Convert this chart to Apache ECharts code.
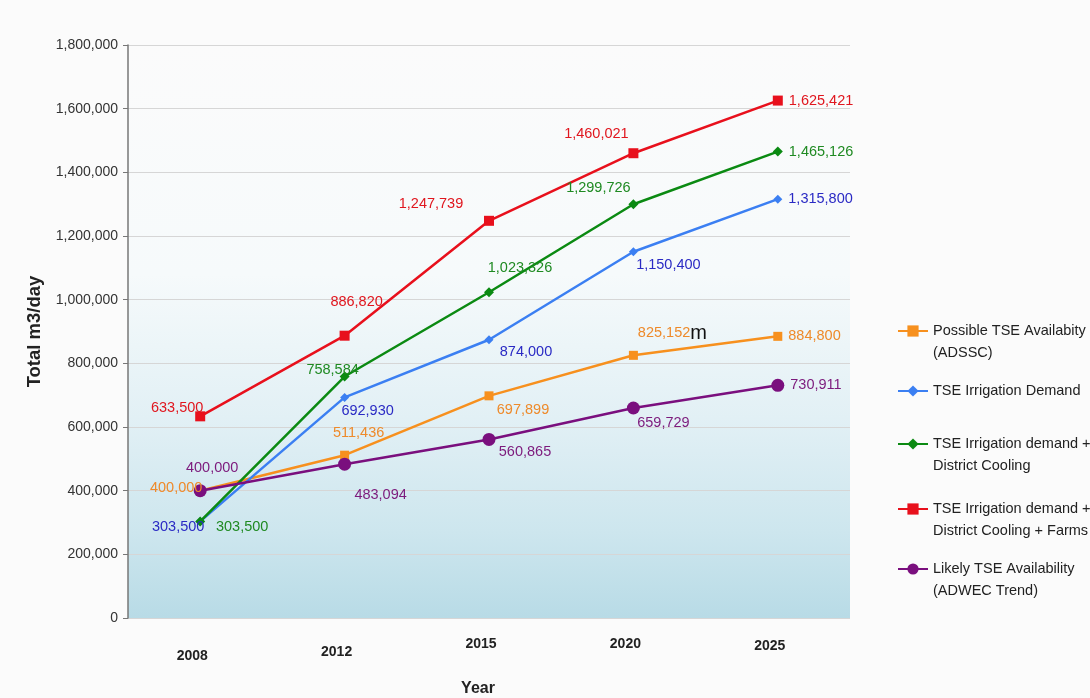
<!DOCTYPE html>
<html>
<head>
<meta charset="utf-8">
<title>TSE demand and availability</title>
<script src="https://cdn.jsdelivr.net/npm/echarts@6/dist/echarts.min.js"></script>
<style>
  html, body { margin: 0; padding: 0; background: #fbfbfb; }
  #chart { width: 1090px; height: 698px; }
</style>
</head>
<body>
<div id="chart"></div>
<script>
// Years on the category axis
const years = ['2008', '2012', '2015', '2020', '2025'];

// Flows in m3/day
const possibleADSSC = [400000, 511436, 697899, 825152, 884800];
const irrigationDemand = [303500, 692930, 874000, 1150400, 1315800];
const irrigationCooling = [303500, 758584, 1023326, 1299726, 1465126];
const irrigationCoolingFarms = [633500, 886820, 1247739, 1460021, 1625421];
const likelyADWEC = [400000, 483094, 560865, 659729, 730911];

// Value axis range
const yMin = 0;
const yMax = 1800000;
const yStep = 200000;

// Where each value label sits relative to its marker ([dx, dy]; null = to the right)
const offsADSSC = [[-24, -3], [14, -22], [34, 14], [39, -22], null];
const offsIrrigation = [[-22, 6], [23, 14], [37, 12], [35, 13], null];
const offsCooling = [[42, 6], [-12, -7], [31, -24], [-35, -16], null];
const offsFarms = [[-23, -8], [12, -34], [-58, -17], [-37, -19], null];
const offsADWEC = [[12, -23], [36, 31], [36, 13], [30, 15], null];
// a stray mark printed after one label
const suffixADSSC = ['', '', '', 'm', ''];
// extra downward shift of each year label
const yearLabelDrop = [12, 8, 0, 0, 2];

const FONT = "'Liberation Sans', Arial, sans-serif";
const fmt = v => v.toLocaleString('en-US');

function makeSeries(name, values, offs, lineColor, labelColor, symbol, symbolSize, suffix) {
  return {
    name: name,
    type: 'line',
    symbol: symbol,
    symbolSize: symbolSize,
    lineStyle: { color: lineColor, width: 2.5 },
    itemStyle: { color: lineColor },
    emphasis: { disabled: true },
    data: values.map((v, i) => {
      const o = offs[i];
      const label = o
        ? { show: true, position: 'inside', offset: o, align: 'center', verticalAlign: 'middle' }
        : { show: true, position: 'right', distance: 6 };
      return { value: v, label: label };
    }),
    label: {
      show: true,
      color: labelColor,
      fontFamily: FONT,
      fontSize: 14.5,
      formatter: p => {
        const s = suffix ? suffix[p.dataIndex] : '';
        return s ? '{v|' + fmt(p.value) + '}{m|' + s + '}' : fmt(p.value);
      },
      rich: {
        v: { color: labelColor, fontFamily: FONT, fontSize: 14.5 },
        m: { color: '#111', fontFamily: FONT, fontSize: 20 }
      }
    }
  };
}

const names = [
  'Possible TSE Availabity\n(ADSSC)',
  'TSE Irrigation Demand',
  'TSE Irrigation demand +\nDistrict Cooling',
  'TSE Irrigation demand +\nDistrict Cooling + Farms',
  'Likely TSE Availability\n(ADWEC Trend)'
];
const legendTops = [293, 375, 406, 471, 531];

const legends = names.map((n, i) => {
  const twoLine = n.indexOf('\n') >= 0;
  return {
    data: [n],
    orient: 'vertical',
    left: 892,
    top: legendTops[i],
    itemWidth: 30,
    itemHeight: 14,
    itemGap: 0,
    selectedMode: false,
    // a leading blank line keeps the icon level with the first text line
    formatter: name => (twoLine ? '\n' + name : name),
    textStyle: { color: '#222', fontFamily: FONT, fontSize: 14.5, lineHeight: 22 }
  };
});

const chart = echarts.init(document.getElementById('chart'), null, { renderer: 'canvas' });
chart.setOption({
  backgroundColor: '#fbfbfb',
  animation: false,
  legend: legends,
  grid: {
    left: 128, right: 240, top: 45, bottom: 80,
    outerBoundsMode: 'none',
    containLabel: false,
    show: true,
    borderWidth: 0,
    backgroundColor: {
      type: 'linear', x: 0, y: 0, x2: 0, y2: 1,
      colorStops: [
        { offset: 0, color: '#fbfbfb' },
        { offset: 0.4, color: '#f6fafb' },
        { offset: 0.65, color: '#e2f0f5' },
        { offset: 0.85, color: '#cde6ee' },
        { offset: 1, color: '#b8dbe6' }
      ]
    }
  },
  xAxis: {
    type: 'category',
    data: years,
    boundaryGap: true,
    name: 'Year',
    nameLocation: 'middle',
    nameGap: 63,
    nameTextStyle: { color: '#222', fontFamily: FONT, fontSize: 16, fontWeight: 'bold', padding: [0, 22, 0, 0] },
    axisLine: { show: false },
    axisTick: { show: false },
    axisLabel: {
      margin: 19,
      formatter: (v, i) => '{t' + i + '|' + v + '}',
      rich: Object.fromEntries(yearLabelDrop.map((d, i) => ['t' + i, {
        color: '#222', fontFamily: FONT, fontSize: 14, fontWeight: 'bold',
        padding: [d, 16, 0, 0]
      }]))
    }
  },
  yAxis: {
    type: 'value',
    min: yMin, max: yMax, interval: yStep,
    name: 'Total m3/day',
    nameLocation: 'middle',
    nameGap: 82,
    nameTextStyle: { color: '#222', fontFamily: FONT, fontSize: 18.5, fontWeight: 'bold' },
    axisLine: { show: true, lineStyle: { color: '#777', width: 1.5 } },
    axisTick: { show: true, length: 5, lineStyle: { color: '#777' } },
    axisLabel: { color: '#333', fontFamily: FONT, fontSize: 14, margin: 10, formatter: v => fmt(v) },
    splitLine: { show: true, lineStyle: { color: '#d6d6d6', width: 1 } }
  },
  series: [
    makeSeries(names[0], possibleADSSC, offsADSSC, '#f7901e', '#ee8a2a', 'rect', 9, suffixADSSC),
    makeSeries(names[1], irrigationDemand, offsIrrigation, '#3b7ff2', '#2a2ac4', 'diamond', 9),
    makeSeries(names[2], irrigationCooling, offsCooling, '#0b8a12', '#1f8a22', 'diamond', 10),
    makeSeries(names[3], irrigationCoolingFarms, offsFarms, '#e8101c', '#e0161e', 'rect', 10),
    makeSeries(names[4], likelyADWEC, offsADWEC, '#7a0f7e', '#7c1a7c', 'circle', 13)
  ]
});
</script>
</body>
</html>
